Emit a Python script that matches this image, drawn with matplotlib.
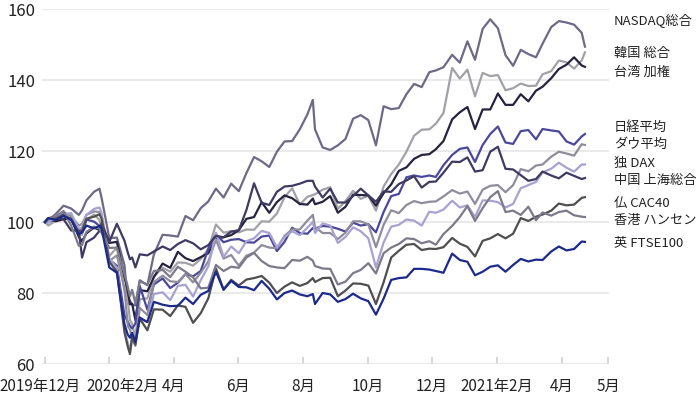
import matplotlib
matplotlib.use("Agg")
import matplotlib.pyplot as plt
import matplotlib.transforms as mtransforms
import pandas as pd

plt.rcParams['font.family'] = ['Noto Sans CJK JP', 'DejaVu Sans']

# 終値ベース (2019年12月末 = 100)
dates = [
    "2019-12-31", "2020-01-03", "2020-01-10", "2020-01-17", "2020-01-24", "2020-01-31",
    "2020-02-03", "2020-02-07", "2020-02-14", "2020-02-19", "2020-02-21", "2020-02-28",
    "2020-03-06", "2020-03-13", "2020-03-16", "2020-03-18", "2020-03-20", "2020-03-23",
    "2020-03-27", "2020-04-03", "2020-04-09", "2020-04-17", "2020-04-24", "2020-05-01",
    "2020-05-08", "2020-05-15", "2020-05-22", "2020-05-29", "2020-06-05", "2020-06-12",
    "2020-06-19", "2020-06-26", "2020-07-03", "2020-07-10", "2020-07-17", "2020-07-24",
    "2020-07-31", "2020-08-07", "2020-08-14", "2020-08-21", "2020-08-28", "2020-09-02",
    "2020-09-04", "2020-09-11", "2020-09-18", "2020-09-25", "2020-10-02", "2020-10-09",
    "2020-10-16", "2020-10-23", "2020-10-30", "2020-11-06", "2020-11-13", "2020-11-20",
    "2020-11-27", "2020-12-04", "2020-12-11", "2020-12-18", "2020-12-24", "2020-12-31",
    "2021-01-08", "2021-01-15", "2021-01-22", "2021-01-29", "2021-02-05", "2021-02-12",
    "2021-02-19", "2021-02-26", "2021-03-05", "2021-03-12", "2021-03-19", "2021-03-26",
    "2021-04-01", "2021-04-09", "2021-04-16", "2021-04-23", "2021-04-30", "2021-05-07",
    "2021-05-10",
]

nasdaq = [100, 100.5, 102.3, 104.6, 103.8, 102.0, 103.3, 106.1, 108.5, 109.4, 106.7, 95.5,
          95.6, 87.8, 77.0, 77.9, 76.7, 76.5, 83.6, 82.2, 90.9, 96.4, 96.2, 95.9,
          101.7, 100.5, 103.9, 105.8, 109.4, 106.9, 110.8, 108.7, 113.8, 118.3, 117.1, 115.5,
          119.8, 122.7, 122.8, 126.1, 130.3, 134.4, 126.1, 121.0, 120.3, 121.6, 123.4, 129.1,
          130.1, 128.7, 121.6, 132.6, 131.8, 132.1, 136.0, 138.9, 138.0, 142.2, 142.7, 143.6,
          147.1, 144.9, 150.9, 145.7, 154.4, 157.1, 154.6, 147.0, 144.0, 148.5, 147.3, 146.4,
          150.2, 154.9, 156.6, 156.2, 155.6, 153.3, 149.4]
kospi = [100, 99.0, 100.4, 102.4, 102.2, 96.4, 96.4, 100.6, 102.1, 100.6, 98.4, 90.4,
         92.8, 80.6, 78.0, 72.4, 71.3, 67.5, 78.2, 78.5, 84.7, 87.1, 86.0, 88.6,
         88.5, 87.7, 89.6, 92.4, 99.3, 97.0, 97.4, 97.1, 97.9, 97.8, 100.2, 100.1,
         102.4, 107.0, 109.5, 104.9, 107.1, 107.6, 107.8, 109.1, 109.8, 103.7, 105.9, 108.8,
         106.5, 107.4, 103.2, 110.0, 113.5, 116.2, 119.8, 124.3, 126.0, 126.1, 127.7, 130.7,
         143.4, 140.4, 142.9, 135.4, 142.0, 141.1, 141.4, 137.1, 137.7, 139.0, 138.3, 138.4,
         141.6, 142.5, 145.5, 145.0, 143.2, 145.5, 147.8]
taiex = [100, 100.9, 100.2, 100.8, 101.0, 95.8, 94.6, 96.8, 98.5, 97.7, 97.4, 94.1,
         94.4, 84.4, 81.0, 76.8, 77.0, 72.4, 80.8, 80.5, 84.5, 88.3, 87.1, 91.6,
         89.8, 89.0, 90.1, 91.2, 95.4, 95.7, 96.3, 97.7, 100.9, 101.4, 105.6, 102.6,
         105.6, 107.5, 106.7, 105.1, 104.9, 106.6, 105.0, 105.7, 107.3, 102.6, 104.3, 107.7,
         107.6, 107.5, 104.6, 108.1, 110.6, 114.4, 115.4, 117.8, 118.9, 119.1, 120.5, 122.8,
         128.9, 130.9, 132.4, 126.2, 131.7, 131.7, 136.2, 133.0, 133.0, 136.0, 134.0, 137.0,
         138.1, 140.5, 143.1, 144.3, 146.4, 144.1, 143.7]
nikkei = [100, 100, 100.8, 101.6, 100.7, 98.1, 97.1, 100.7, 100.1, 98.9, 98.9, 89.4,
          87.7, 73.7, 71.9, 70.7, 70.0, 71.4, 82.0, 75.3, 82.4, 84.1, 81.4, 82.9,
          85.3, 84.7, 86.2, 92.5, 96.6, 94.3, 95.0, 95.2, 94.3, 94.2, 95.9, 96.2,
          91.8, 94.4, 98.4, 96.9, 96.7, 98.3, 98.1, 98.9, 98.7, 98.1, 97.3, 99.8,
          99.0, 99.4, 97.1, 102.8, 107.3, 107.9, 112.6, 113.1, 112.7, 113.1, 112.7, 116.0,
          118.9, 120.6, 121.0, 116.9, 121.7, 124.8, 126.9, 122.4, 122.0, 125.6, 125.9, 123.3,
          126.2, 125.8, 125.5, 122.7, 121.8, 124.1, 124.8]
dow = [100, 100.3, 101.0, 102.8, 101.6, 99.0, 99.5, 102.0, 103.0, 102.8, 101.6, 89.0,
       90.6, 81.2, 70.7, 69.7, 67.2, 65.1, 75.8, 73.8, 83.1, 84.9, 83.3, 83.1,
       85.3, 83.0, 85.7, 88.9, 95.0, 89.7, 90.7, 87.7, 90.5, 91.4, 93.5, 92.8,
       92.6, 96.1, 97.9, 97.9, 100.4, 102.0, 98.6, 96.9, 96.9, 95.2, 97.0, 100.2,
       100.2, 99.3, 92.9, 99.2, 103.3, 102.5, 104.8, 105.9, 105.3, 105.7, 105.8, 107.2,
       109.0, 108.0, 108.6, 105.1, 109.1, 110.2, 110.4, 108.4, 110.4, 114.9, 114.3, 115.9,
       116.2, 118.4, 119.8, 119.3, 118.7, 121.9, 121.7]
dax = [100, 99.8, 101.8, 102.1, 102.5, 98.0, 98.5, 102.0, 103.7, 104.1, 102.5, 89.7,
       87.1, 69.7, 66.0, 63.7, 67.4, 66.0, 72.7, 71.9, 79.7, 80.2, 78.0, 82.0,
       82.3, 79.0, 83.6, 87.5, 97.0, 90.2, 93.1, 91.2, 94.6, 95.4, 97.5, 96.9,
       92.9, 95.7, 97.4, 96.3, 98.4, 100.0, 96.9, 99.6, 99.0, 94.1, 95.8, 98.5,
       97.4, 95.4, 87.2, 94.2, 98.7, 99.2, 100.7, 100.4, 99.0, 102.9, 102.6, 103.5,
       106.0, 104.1, 104.7, 101.4, 106.1, 106.0, 105.6, 104.1, 105.1, 109.5, 110.4, 111.3,
       114.0, 115.0, 116.7, 115.3, 114.2, 116.2, 116.2]
shanghai = [100, 101.1, 101.4, 100.8, 97.6, 97.6, 90.0, 94.3, 95.6, 97.5, 99.7, 94.4,
            99.5, 94.7, 91.4, 89.5, 90.0, 87.2, 90.9, 90.6, 91.7, 93.1, 92.1, 93.8,
            94.9, 94.0, 92.3, 93.5, 96.1, 95.7, 97.3, 97.7, 103.4, 110.9, 105.4, 104.8,
            108.5, 110.0, 110.2, 110.8, 111.6, 111.6, 110.0, 106.9, 109.4, 105.5, 105.5, 107.3,
            109.4, 107.5, 105.7, 108.6, 108.5, 110.7, 111.7, 112.9, 109.7, 111.3, 111.4, 113.9,
            117.0, 116.9, 118.2, 114.2, 114.6, 119.8, 121.2, 115.0, 114.8, 113.2, 111.6, 112.1,
            114.2, 113.1, 112.3, 113.9, 113.0, 112.1, 112.4]
cac40 = [100, 101.1, 101.0, 102.1, 100.8, 97.1, 97.6, 100.9, 101.5, 102.2, 100.9, 88.8,
         86.0, 68.9, 64.9, 62.8, 67.7, 65.5, 72.8, 69.5, 75.4, 75.3, 73.5, 76.5,
         76.1, 71.6, 74.3, 78.5, 86.9, 81.0, 83.7, 82.1, 83.8, 84.2, 84.8, 82.9,
         80.0, 81.8, 83.0, 82.0, 82.8, 84.2, 83.1, 84.2, 84.3, 79.1, 80.7, 82.7,
         82.6, 82.1, 76.9, 83.0, 90.0, 91.9, 93.6, 93.8, 92.1, 92.5, 92.4, 92.9,
         95.5, 93.9, 93.0, 90.3, 94.7, 95.4, 96.6, 95.4, 96.7, 101.1, 100.3, 101.5,
         102.1, 103.2, 105.2, 104.7, 104.9, 106.8, 107.0]
hangseng = [100, 100.9, 101.6, 103.1, 99.0, 93.3, 93.5, 97.2, 98.7, 98.1, 96.9, 92.7,
            92.8, 85.3, 81.8, 79.1, 80.9, 77.0, 83.3, 82.4, 86.2, 86.5, 84.5, 87.4,
            86.0, 84.4, 81.3, 81.5, 87.9, 86.2, 87.4, 87.1, 90.0, 91.3, 89.0, 87.6,
            87.2, 87.0, 89.3, 89.1, 90.2, 89.1, 87.6, 86.9, 86.8, 82.4, 83.2, 85.6,
            86.5, 88.4, 85.5, 91.2, 92.8, 93.8, 95.4, 95.2, 94.0, 94.6, 93.6, 96.6,
            98.9, 101.4, 104.5, 100.3, 103.9, 107.0, 108.7, 102.8, 103.2, 102.0, 104.3, 100.5,
            102.7, 101.8, 102.8, 103.2, 101.9, 101.5, 101.4]
ftse = [100, 101.1, 100.6, 101.8, 100.6, 96.6, 97.1, 99.0, 98.2, 98.9, 98.2, 87.2,
        85.7, 71.1, 68.3, 67.4, 68.8, 66.2, 73.1, 71.8, 77.5, 76.7, 76.3, 76.4,
        78.7, 76.9, 79.5, 80.6, 86.0, 80.9, 83.4, 81.7, 81.6, 80.8, 83.4, 81.2,
        78.2, 80.0, 80.7, 79.6, 79.1, 79.7, 76.9, 80.0, 79.6, 77.5, 78.3, 79.8,
        78.5, 77.7, 73.9, 78.4, 83.7, 84.2, 84.4, 86.8, 86.8, 86.6, 86.2, 85.7,
        91.1, 89.3, 88.8, 85.0, 86.0, 87.4, 87.8, 86.0, 87.9, 89.6, 88.9, 89.4,
        89.3, 91.7, 93.1, 92.0, 92.4, 94.5, 94.4]

names = ["NASDAQ総合", "韓国 総合", "台湾 加権", "日経平均", "ダウ平均",
         "独 DAX", "中国 上海総合", "仏 CAC40", "香港 ハンセン", "英 FTSE100"]
series = [nasdaq, kospi, taiex, nikkei, dow, dax, shanghai, cac40, hangseng, ftse]
colors = ["#6d6987", "#a2a1a8", "#26233f", "#4b489b", "#8f8c9c",
          "#a8a2d1", "#3e3a62", "#4f4f52", "#7c7a8a", "#1b2a8b"]

# ラベルの縦位置 (重ならないようにずらした値)
label_y = [156.5, 147.5, 142.1, 126.7, 121.9, 116.6, 111.8, 105.3, 100.3, 94.1]

tick_days = [-0.4, 58.8, 118.5, 177.7, 237.0, 296.7, 355.5, 415.2, 474.9, 517.6]
tick_labels = ["2019年12月", "2020年2月", "4月", "6月", "8月", "10月", "12月",
               "2021年2月", "4月", "5月"]

d = pd.to_datetime(dates)
days = (d - d[0]).days

fig = plt.figure(figsize=(7.0, 3.97), dpi=100)
ax = fig.add_axes([0.06, 0.0831, 0.8094, 0.8942])

for vals, c in zip(series, colors):
    ax.plot(days, vals, color=c, lw=1.6, solid_joinstyle="round")

ax.set_xlim(-2.8, 517.7)
ax.set_ylim(60, 160)
ax.set_yticks([60, 80, 100, 120, 140, 160])
ax.yaxis.grid(True, color="#e4e4e4", lw=1.1)
ax.set_axisbelow(True)
for s in ax.spines.values():
    s.set_visible(False)
ax.tick_params(axis="y", length=0, pad=5, labelsize=12, labelcolor="#222222")

ax.set_xticks(tick_days)
ax.set_xticklabels(tick_labels)
ax.tick_params(axis="x", direction="in", length=5, width=1.1, color="#cccccc",
               pad=10, labelsize=11, labelcolor="#222222")

# 混み合うラベルを左右にずらす
shifts = {0: -4.5, 1: 13.5}
for i, lab in enumerate(ax.get_xticklabels()):
    if i in shifts:
        off = mtransforms.ScaledTranslation(shifts[i] / 100, 0, fig.dpi_scale_trans)
        lab.set_transform(lab.get_transform() + off)

trans = mtransforms.blended_transform_factory(fig.transFigure, ax.transData)
for name, y in zip(names, label_y):
    ax.text(614 / 700, y, name, transform=trans, ha="left", va="center",
            fontsize=9.5, color="#222222", clip_on=False)

fig.savefig("out.png", dpi=100)
